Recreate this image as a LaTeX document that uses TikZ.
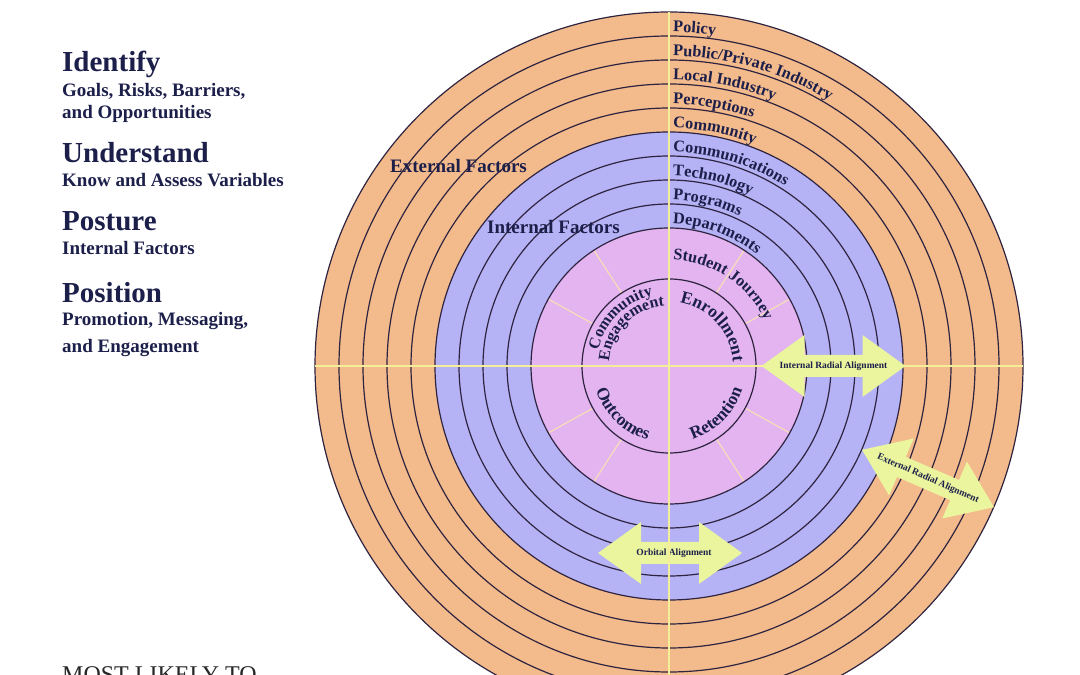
\documentclass[tikz,border=0pt]{standalone}
\usepackage{fontspec}
\setmainfont{Liberation Serif}
\usetikzlibrary{decorations.text}
\definecolor{orangefill}{HTML}{F3BA8C}
\definecolor{bluefill}{HTML}{B5B3F6}
\definecolor{pinkfill}{HTML}{E3B4F0}
\definecolor{ringc}{HTML}{2E2440}
\definecolor{spokec}{HTML}{F6DDB8}
\definecolor{crossc}{HTML}{F4EE98}
\definecolor{navy}{HTML}{1C1F4A}
\definecolor{arrowc}{HTML}{EAF59E}
\tikzset{
  ringline/.style={draw=ringc, line width=1.2pt},
  spoke/.style={draw=spokec, line width=1.2pt},
  crossline/.style={draw=crossc, line width=2pt},
  arrowbody/.style={fill=arrowc},
  arrowtext/.style={font=\bfseries\fontsize{9.5}{9.5}\selectfont, text=navy, inner sep=0pt, transform shape},
  headtxt/.style={anchor=base west, font=\bfseries\fontsize{29}{29}\selectfont, text=navy, inner sep=0pt},
  subtxt/.style={anchor=base west, font=\bfseries\fontsize{19}{19}\selectfont, text=navy, inner sep=0pt},
  factortxt/.style={anchor=base west, font=\bfseries\fontsize{19}{19}\selectfont, text=navy, inner sep=0pt},
}
\newcommand\arctext[6]{%
  \path[decorate, decoration={text along path, text align=#4,
      text={|\bfseries\fontsize{#5}{#5}\selectfont\color{navy}|#6}}]
    ([shift={(#2:#1)}]c) arc[start angle=#2, delta angle=#3, radius=#1];}
\newcommand\dblarrow[5]{% center, rotation, name, text, text shift
  \begin{scope}[shift={#1}, rotate=#2]
    \fill[arrowbody] (-72,0) -- (-29,31) -- (-29,11) -- (29,11) -- (29,31) -- (72,0)
      -- (29,-31) -- (29,-11) -- (-29,-11) -- (-29,-31) -- cycle;
    \node[arrowtext] (#3) at (#5,0) {#4};
  \end{scope}}
\begin{document}
\begin{tikzpicture}[x=1pt, y=1pt]
\useasboundingbox (0,0) rectangle (1080,675);
\fill[white] (0,0) rectangle (1080,675);
\coordinate (c) at (669,309);

% filled zones
\fill[orangefill] (c) circle[radius=354];
\fill[bluefill] (c) circle[radius=234];
\fill[pinkfill] (c) circle[radius=138];

% spokes in the pink zone
\foreach \a in {29,57,123,151,209,237,303,331}
  \draw[spoke] ([shift={(\a:87)}]c) -- ([shift={(\a:138)}]c);

% ring lines
\foreach \r in {354,330,306,282,258,234,210,186,162,138,87}
  \draw[ringline] (c) circle[radius=\r];

% horizontal axis
\draw[crossline] ([shift={(-354,0)}]c) -- ([shift={(354,0)}]c);

% ring labels
\arctext{334}{89.3}{-100}{left}{16.3}{Policy}
\arctext{310}{89.25}{-100}{left}{16.3}{Public/Private Industry}
\arctext{286}{89.2}{-100}{left}{16.3}{Local Industry}
\arctext{262}{89.1}{-100}{left}{16.3}{Perceptions}
\arctext{238}{89.0}{-100}{left}{16.3}{Community}
\arctext{214}{88.9}{-100}{left}{16.3}{Communications}
\arctext{190}{88.8}{-100}{left}{16.3}{Technology}
\arctext{166}{88.6}{-100}{left}{16.3}{Programs}
\arctext{142}{88.4}{-100}{left}{16.3}{Departments}
\arctext{106}{87.8}{-100}{left}{16.3}{Student Journey}

% inner circle labels
\arctext{72.5}{180}{-90}{center}{16}{Community}
\arctext{60}{180}{-90}{center}{16}{Engagement}
\arctext{64}{87}{-90}{center}{17.5}{Enrollment}
\arctext{77}{181}{90}{center}{17.5}{Outcomes}
\arctext{77}{270}{90}{center}{17.5}{Retention}

% zone labels
\node[factortxt] (ext) at (390,502) {External Factors};
\node[factortxt] (int) at (487,441) {Internal Factors};

% alignment arrows
\dblarrow{(833.5,309)}{0}{ira}{Internal Radial Alignment}{0}
\dblarrow{(928,196.5)}{-23.5}{era}{External Radial Alignment}{0}
\dblarrow{(670,122)}{0}{oa}{Orbital Alignment}{4}

% vertical axis
\draw[crossline] ([shift={(0,354)}]c) -- ([shift={(0,-354)}]c);

% left column
\node[headtxt] (identify) at (62,603) {Identify};
\node[subtxt] (identify1) at (62,578) {Goals, Risks, Barriers,};
\node[subtxt] (identify2) at (62,556) {and Opportunities};
\node[headtxt] (understand) at (62,512) {Understand};
\node[subtxt] (understand1) at (62,488) {Know and Assess Variables};
\node[headtxt] (posture) at (62,444) {Posture};
\node[subtxt] (posture1) at (62,420) {Internal Factors};
\node[headtxt] (position) at (62,372) {Position};
\node[subtxt] (position1) at (62,349) {Promotion, Messaging,};
\node[subtxt] (position2) at (62,322) {and Engagement};

\node[anchor=base west, font=\fontsize{24}{24}\selectfont, text=black!85, inner sep=0pt] (most) at (62,-8) {MOST LIKELY TO};
\end{tikzpicture}
\end{document}
